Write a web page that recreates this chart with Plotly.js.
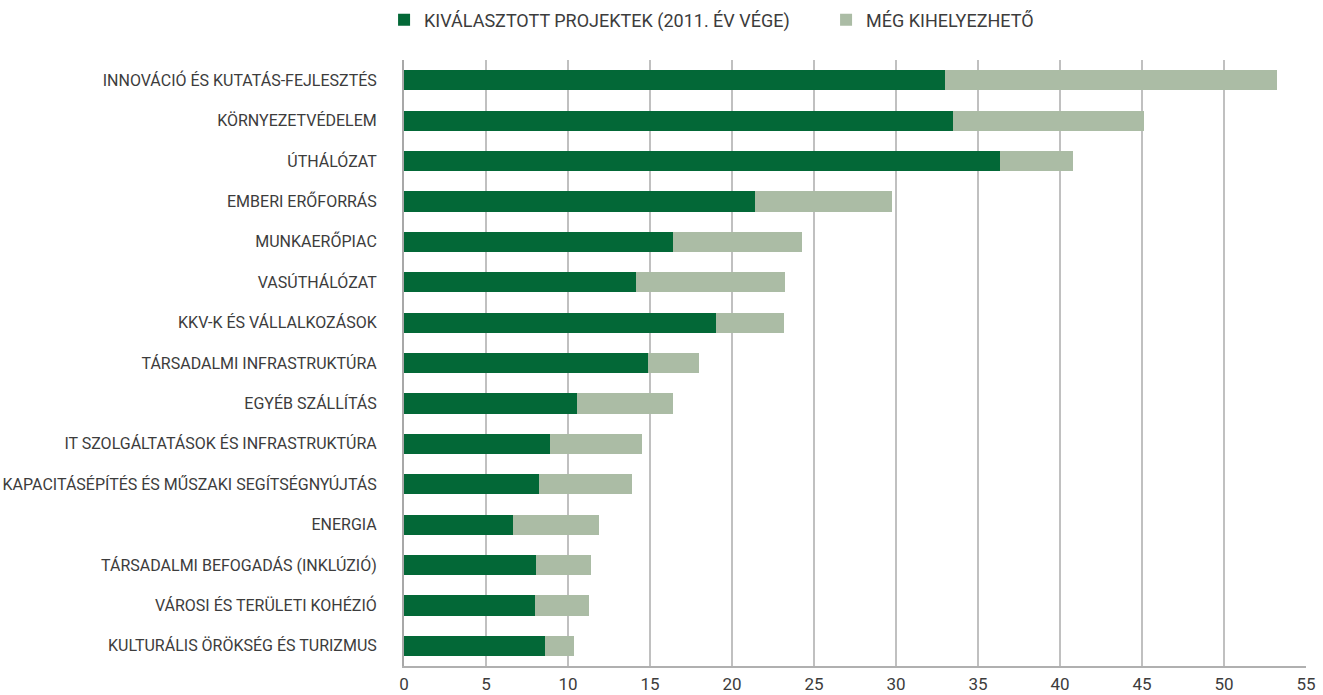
<!DOCTYPE html>
<html>
<head>
<meta charset="utf-8">
<script src="https://cdn.plot.ly/plotly-3.0.1.min.js"></script>
<style>html,body{margin:0;padding:0;background:#fff}#chart{width:1323px;height:695px}</style>
</head>
<body>
<div id="chart"></div>
<script>
const categories = [
  "INNOVÁCIÓ ÉS KUTATÁS-FEJLESZTÉS",
  "KÖRNYEZETVÉDELEM",
  "ÚTHÁLÓZAT",
  "EMBERI ERŐFORRÁS",
  "MUNKAERŐPIAC",
  "VASÚTHÁLÓZAT",
  "KKV-K ÉS VÁLLALKOZÁSOK",
  "TÁRSADALMI INFRASTRUKTÚRA",
  "EGYÉB SZÁLLÍTÁS",
  "IT SZOLGÁLTATÁSOK ÉS INFRASTRUKTÚRA",
  "KAPACITÁSÉPÍTÉS ÉS MŰSZAKI SEGÍTSÉGNYÚJTÁS",
  "ENERGIA",
  "TÁRSADALMI BEFOGADÁS (INKLÚZIÓ)",
  "VÁROSI ÉS TERÜLETI KOHÉZIÓ",
  "KULTURÁLIS ÖRÖKSÉG ÉS TURIZMUS"
];
const selected = [33.0, 33.45, 36.37, 21.43, 16.43, 14.12, 19.05, 14.85, 10.52, 8.93, 8.26, 6.62, 8.02, 7.96, 8.57];
const remaining = [20.26, 11.7, 4.45, 8.3, 7.81, 9.14, 4.15, 3.11, 5.91, 5.61, 5.67, 5.24, 3.41, 3.29, 1.77];
const seriesNames = ["KIVÁLASZTOTT PROJEKTEK (2011. ÉV VÉGE)", "MÉG KIHELYEZHETŐ"];
const xTicks = [0, 5, 10, 15, 20, 25, 30, 35, 40, 45, 50, 55];

const FONT = "Roboto, 'Open Sans', sans-serif";
const data = [
  {type: "bar", orientation: "h", name: seriesNames[0], y: categories, x: selected,
   marker: {color: "#036837"}, hoverinfo: "x+y"},
  {type: "bar", orientation: "h", name: seriesNames[1], y: categories, x: remaining,
   marker: {color: "#abbca5"}, hoverinfo: "x+y"}
];
const layout = {
  width: 1323, height: 695,
  barmode: "stack", bargap: 0.5,
  margin: {l: 404, r: 17, t: 60, b: 29, pad: 0},
  paper_bgcolor: "#fff", plot_bgcolor: "#fff",
  font: {family: FONT, color: "#3c3c3c", size: 16},
  showlegend: true,
  legend: {orientation: "h", xref: "container", x: 0.2903, xanchor: "left",
           yref: "container", y: 0.971, yanchor: "middle",
           entrywidth: 397, entrywidthmode: "pixels", traceorder: "normal",
           font: {family: FONT, size: 18, color: "#3c3c3c"}, itemclick: false},
  xaxis: {range: [0, 55], tickvals: xTicks, ticktext: xTicks.map(String),
          showgrid: true, gridcolor: "#c0c0c0", gridwidth: 1.5,
          showline: true, linecolor: "#b0b0b0", linewidth: 2,
          zeroline: false, ticks: "outside", ticklen: 2, tickcolor: "rgba(0,0,0,0)",
          tickfont: {family: FONT, size: 17, color: "#3c3c3c"}, fixedrange: true},
  yaxis: {type: "category", categoryorder: "array", categoryarray: categories,
          range: [14.5, -0.5], showgrid: false,
          showline: true, linecolor: "#a8a8a8", linewidth: 2,
          ticks: "outside", ticklen: 22, tickcolor: "rgba(0,0,0,0)",
          tickfont: {family: FONT, size: 16, color: "#3c3c3c"}, fixedrange: true}
};
Plotly.newPlot("chart", data, layout, {displayModeBar: false, staticPlot: true});
</script>
</body>
</html>
